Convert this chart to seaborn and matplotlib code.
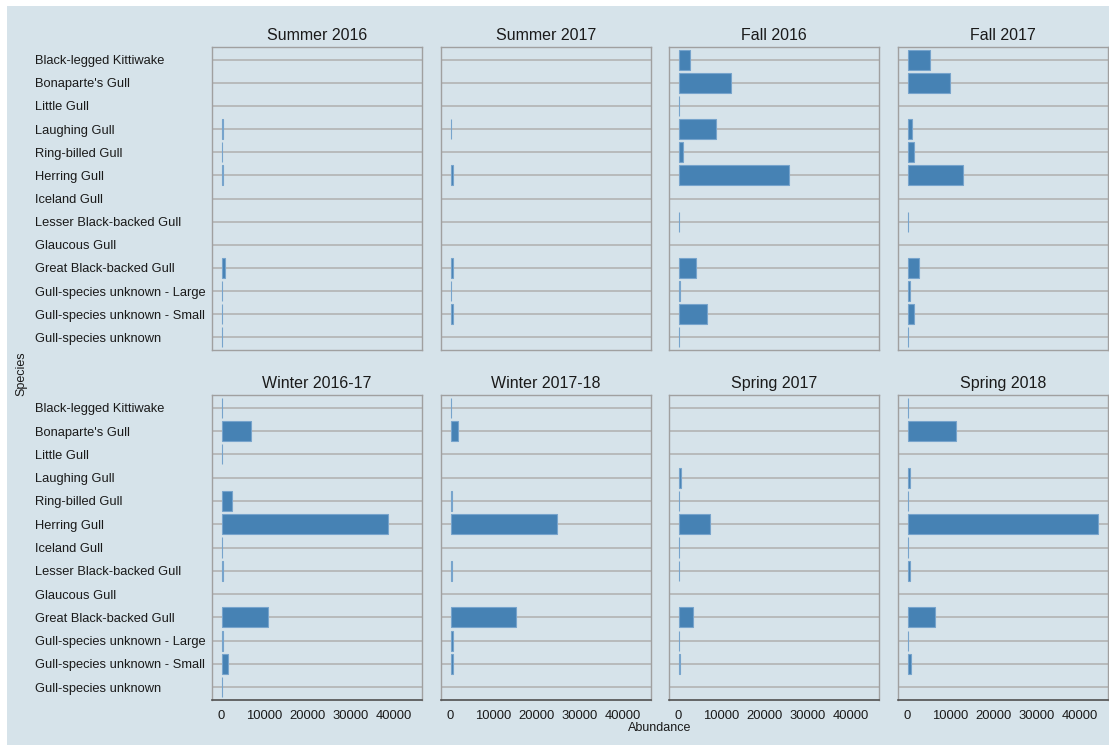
import matplotlib
matplotlib.use("Agg")
import matplotlib.pyplot as plt
import seaborn as sns
import pandas as pd
from matplotlib.patches import Rectangle

# ---------------- data ----------------
species = ["Black-legged Kittiwake", "Bonaparte's Gull", "Little Gull", "Laughing Gull",
           "Ring-billed Gull", "Herring Gull", "Iceland Gull", "Lesser Black-backed Gull",
           "Glaucous Gull", "Great Black-backed Gull", "Gull-species unknown - Large",
           "Gull-species unknown - Small", "Gull-species unknown"]

seasons = ["Summer 2016", "Summer 2017", "Fall 2016", "Fall 2017",
           "Winter 2016-17", "Winter 2017-18", "Spring 2017", "Spring 2018"]

summer_2016 = [0, 0, 0, 350, 200, 400, 0, 0, 0, 850, 100, 200, 100]
summer_2017 = [0, 0, 0, 150, 0, 500, 0, 0, 0, 500, 100, 500, 0]
fall_2016 = [2550, 12100, 100, 8700, 1100, 25600, 0, 150, 0, 4100, 300, 6500, 100]
fall_2017 = [5200, 9900, 0, 1100, 1400, 12900, 0, 150, 0, 2650, 550, 1400, 80]
winter_2016_17 = [80, 6800, 80, 0, 2450, 38700, 50, 300, 0, 10750, 300, 1550, 80]
winter_2017_18 = [200, 1700, 0, 0, 330, 24700, 0, 250, 0, 15250, 550, 550, 0]
spring_2017 = [0, 0, 0, 470, 80, 7350, 50, 150, 0, 3400, 80, 400, 0]
spring_2018 = [100, 11150, 0, 470, 150, 44300, 50, 470, 0, 6350, 100, 860, 0]

season_values = [summer_2016, summer_2017, fall_2016, fall_2017,
                 winter_2016_17, winter_2017_18, spring_2017, spring_2018]

x_ticks = [0, 10000, 20000, 30000, 40000]

rows_list = []
for s, vals in zip(seasons, season_values):
    for sp, v in zip(species, vals):
        rows_list.append({"Season": s, "Species": sp, "Abundance": v})
df = pd.DataFrame(rows_list)

# ---------------- style ----------------
sns.set_style("white")
plt.rcParams['font.family'] = ['Liberation Sans', 'DejaVu Sans']

BG = '#d6e3ea'
BAR = '#4682b4'
BAR_EDGE = '#77a4cc'
GRID = '#b3b3b3'
BORDER = '#a0a0a0'
TXT = '#1a1a1a'

W, H = 1109, 745
fig = plt.figure(figsize=(W / 100, H / 100), dpi=100, facecolor='white')
fig.patches.append(Rectangle((7 / W, 0), 1 - 7 / W, 1 - 6 / H, transform=fig.transFigure,
                             facecolor=BG, edgecolor='none', zorder=-10))

col_x = [212, 441, 669, 898]
panel_w = 210
row_y = [(47, 350), (395, 700)]

for i, season in enumerate(seasons):
    r, c = divmod(i, 4)
    top, bot = row_y[r]
    ax = fig.add_axes([col_x[c] / W, 1 - bot / H, panel_w / W, (bot - top) / H])
    ax.set_facecolor(BG)
    sub = df[df["Season"] == season]
    sns.barplot(data=sub, x="Abundance", y="Species", order=species, orient="h",
                color=BAR, saturation=1, width=0.86, linewidth=0.8, edgecolor=BAR_EDGE,
                errorbar=None, ax=ax)
    for p in ax.patches:
        if p.get_width() == 0:
            p.set_visible(False)
    ax.set_xlim(-2215, 46515)
    ax.set_ylim(12.55, -0.55)
    ax.set_yticks(range(len(species)))
    ax.grid(axis='y', color=GRID, lw=1.2)
    ax.grid(axis='x', visible=False)
    ax.set_axisbelow(True)
    for spn in ax.spines.values():
        spn.set_visible(True)
        spn.set_color(BORDER)
        spn.set_linewidth(1.0)
    ax.set_title(season, fontsize=11.5, pad=5, color=TXT)
    ax.tick_params(length=0)
    ax.set_xlabel('')
    ax.set_ylabel('')
    if c == 0:
        ax.set_yticklabels(species, fontsize=9.3, ha='left', color=TXT)
        ax.tick_params(axis='y', pad=127.4)
    else:
        ax.set_yticklabels([])
    ax.set_xticks(x_ticks)
    if r == 1:
        ax.set_xticklabels([str(t) for t in x_ticks], fontsize=9.4, color=TXT)
        ax.tick_params(axis='x', pad=7)
        ax.spines['bottom'].set_color('#505050')
        ax.spines['bottom'].set_linewidth(1.2)
    else:
        ax.set_xticklabels([])

fig.text(660 / W, 1 - 728 / H, 'Abundance', ha='center', va='center', fontsize=9, color=TXT)
fig.text(21 / W, 1 - 374 / H, 'Species', rotation=90, ha='center', va='center', fontsize=9, color=TXT)

fig.savefig("out.png", dpi=100, facecolor=fig.get_facecolor())
